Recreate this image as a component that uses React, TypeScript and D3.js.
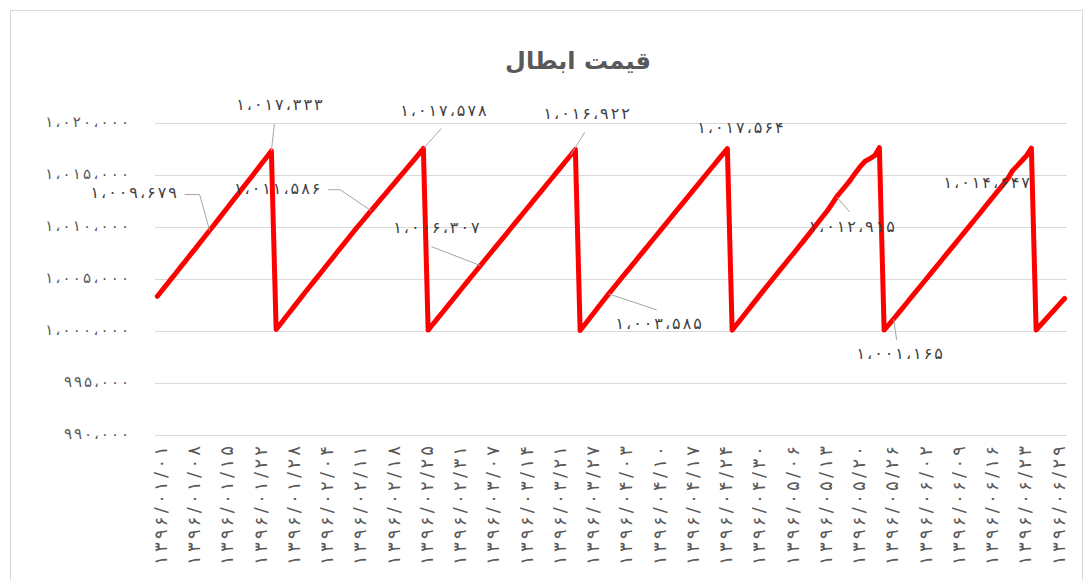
import * as d3 from 'd3';
import { useEffect, useRef } from 'react';

// redemption price, one point per trading row (day 25 of each month appears twice: before/after payout)
const prices: number[] = [
  1003350, 1003930, 1004490, 1005080, 1005640, 1006230, 1006790, 1007380, 1007940, 1008530,
  1009100, 1009679, 1010260, 1010850, 1011440, 1012020, 1012610, 1013200, 1013790, 1014370,
  1014960, 1015560, 1016150, 1016740, 1017333,
  1000150, 1000740, 1001330, 1001910, 1002500, 1003080, 1003660, 1004240, 1004810, 1005380,
  1005960, 1006530, 1007100, 1007680, 1008250, 1008820, 1009390, 1009960, 1010500, 1011040,
  1011586, 1012130, 1012670, 1013210, 1013760, 1014300, 1014840, 1015380, 1015920, 1016460,
  1017010, 1017578,
  1000100, 1000660, 1001230, 1001790, 1002360, 1002920, 1003490, 1004050, 1004620, 1005180,
  1005740, 1006307, 1006870, 1007420, 1007980, 1008540, 1009100, 1009660, 1010220, 1010780,
  1011340, 1011900, 1012460, 1013010, 1013570, 1014130, 1014690, 1015250, 1015810, 1016370,
  1016922, 1017480,
  1000050, 1000640, 1001230, 1001820, 1002410, 1003000, 1003585, 1004140, 1004700, 1005260,
  1005820, 1006380, 1006940, 1007500, 1008060, 1008620, 1009180, 1009740, 1010300, 1010860,
  1011420, 1011980, 1012540, 1013100, 1013660, 1014220, 1014780, 1015340, 1015890, 1016450,
  1017010, 1017564,
  1000080, 1000660, 1001240, 1001820, 1002400, 1002980, 1003560, 1004130, 1004700, 1005270,
  1005840, 1006400, 1006960, 1007520, 1008090, 1008660, 1009240, 1009820, 1010400, 1010980,
  1011560, 1012220, 1012915, 1013480, 1014020, 1014600, 1015250, 1015850, 1016350, 1016600,
  1016880, 1017650,
  1000100, 1000630, 1001165, 1001730, 1002290, 1002850, 1003410, 1003970, 1004530, 1005090,
  1005650, 1006210, 1006770, 1007330, 1007890, 1008450, 1009010, 1009570, 1010130, 1010690,
  1011250, 1011820, 1012390, 1012960, 1013520, 1014080, 1014647, 1015420, 1015900, 1016400,
  1016900, 1017620,
  1000100, 1000610, 1001120, 1001630, 1002130, 1002640, 1003140,
];

// dates shown under every 7th row
const tickLabels: string[] = [
  '۱۳۹۶/۰۱/۰۱', '۱۳۹۶/۰۱/۰۸', '۱۳۹۶/۰۱/۱۵', '۱۳۹۶/۰۱/۲۲', '۱۳۹۶/۰۱/۲۸', '۱۳۹۶/۰۲/۰۴', '۱۳۹۶/۰۲/۱۱',
  '۱۳۹۶/۰۲/۱۸', '۱۳۹۶/۰۲/۲۵', '۱۳۹۶/۰۲/۳۱', '۱۳۹۶/۰۳/۰۷', '۱۳۹۶/۰۳/۱۴', '۱۳۹۶/۰۳/۲۱', '۱۳۹۶/۰۳/۲۷',
  '۱۳۹۶/۰۴/۰۳', '۱۳۹۶/۰۴/۱۰', '۱۳۹۶/۰۴/۱۷', '۱۳۹۶/۰۴/۲۴', '۱۳۹۶/۰۴/۳۰', '۱۳۹۶/۰۵/۰۶', '۱۳۹۶/۰۵/۱۳',
  '۱۳۹۶/۰۵/۲۰', '۱۳۹۶/۰۵/۲۶', '۱۳۹۶/۰۶/۰۲', '۱۳۹۶/۰۶/۰۹', '۱۳۹۶/۰۶/۱۶', '۱۳۹۶/۰۶/۲۳', '۱۳۹۶/۰۶/۲۹',
];

const yTicks: number[] = [990000, 995000, 1000000, 1005000, 1010000, 1015000, 1020000];

// rows that carry a data label
const labelRows: number[] = [11, 24, 45, 56, 68, 87, 95, 120, 143, 155, 179];

// label placement relative to its point: text centre, and leader line vertices
const labelLayout: { dx: number; dy: number; leader: [number, number][] }[] = [
  { dx: -76, dy: -38, leader: [[-25, -36], [-10, -36]] },
  { dx: 8, dy: -47, leader: [[3, -27]] },
  { dx: -94, dy: -22, leader: [[-43, -21], [-31, -21]] },
  { dx: 20, dy: -38, leader: [[18, -20]] },
  { dx: -44, dy: -38, leader: [[-49, -19]] },
  { dx: 16, dy: -42, leader: [[14, -23]] },
  { dx: 50, dy: 30, leader: [[48, 16]] },
  { dx: 13, dy: -21, leader: [] },
  { dx: 15, dy: 30, leader: [[13, 15]] },
  { dx: 6, dy: 35, leader: [[3, 21]] },
  { dx: -21, dy: 4, leader: [] },
];

const W = 1086;
const H = 580;
const TICK_EVERY = 7;
const FONT = '"DejaVu Sans", sans-serif';

const fa = (s: string) =>
  s.replace(/\d/g, (d) => '۰۱۲۳۴۵۶۷۸۹'[+d]).replace(/,/g, '،');
const fmt = (v: number) => fa(d3.format(',')(v));

const App = () => {
  const ref = useRef<SVGSVGElement | null>(null);

  useEffect(() => {
    if (!ref.current) return;
    const svg = d3.select(ref.current);
    svg.selectAll('*').remove();

    const left = 155;
    const right = 1067;
    const top = 123.3;
    const bottom = 435;

    const x = d3
      .scalePoint<number>()
      .domain(d3.range(prices.length))
      .range([left, right])
      .padding(0.5);
    const y = d3.scaleLinear().domain([990000, 1020000]).range([bottom, top]);

    // chart frame
    svg
      .append('rect')
      .attr('x', 10.5)
      .attr('y', 10.5)
      .attr('width', 1072)
      .attr('height', 600)
      .attr('fill', 'white')
      .attr('stroke', '#d9d9d9');

    svg
      .append('text')
      .attr('x', 578)
      .attr('y', 61)
      .attr('text-anchor', 'middle')
      .attr('dominant-baseline', 'central')
      .attr('font-family', FONT)
      .attr('font-weight', 'bold')
      .attr('font-size', 24)
      .attr('fill', '#595959')
      .text('قیمت ابطال');

    // gridlines
    svg
      .append('g')
      .selectAll('line')
      .data(yTicks)
      .enter()
      .append('line')
      .attr('x1', left)
      .attr('x2', right)
      .attr('y1', (d) => Math.round(y(d)) + 0.5)
      .attr('y2', (d) => Math.round(y(d)) + 0.5)
      .attr('stroke', '#d9d9d9')
      .attr('stroke-width', 1.2);

    // letter-spacing is ignored for arabic-script digits, so stretch with textLength
    svg
      .append('g')
      .selectAll('text')
      .data(yTicks)
      .enter()
      .append('text')
      .attr('x', 129)
      .attr('y', (d) => y(d) - 1)
      .attr('text-anchor', 'end')
      .attr('dominant-baseline', 'central')
      .attr('font-family', FONT)
      .attr('font-size', 15)
      .attr('fill', '#595959')
      .attr('textLength', (d) => fmt(d).length * 9.3)
      .attr('lengthAdjust', 'spacing')
      .text((d) => fmt(d));

    // x tick labels, rotated
    svg
      .append('g')
      .selectAll('text')
      .data(tickLabels)
      .enter()
      .append('text')
      .attr('transform', (_d, i) => `translate(${(x(i * TICK_EVERY) as number) + 3},446) rotate(-90)`)
      .attr('text-anchor', 'end')
      .attr('dominant-baseline', 'central')
      .attr('font-family', FONT)
      .attr('font-size', 18)
      .attr('fill', '#595959')
      .attr('textLength', 119)
      .attr('lengthAdjust', 'spacing')
      .text((d) => d);

    const line = d3
      .line<number>()
      .x((_d, i) => x(i) as number)
      .y((d) => y(d));

    svg
      .append('path')
      .datum(prices)
      .attr('d', line)
      .attr('fill', 'none')
      .attr('stroke', '#ff0000')
      .attr('stroke-width', 5)
      .attr('stroke-linejoin', 'round')
      .attr('stroke-linecap', 'round');

    // data labels with leader lines
    const labels = svg.append('g');
    labelRows.forEach((row, k) => {
      const px = x(row) as number;
      const py = y(prices[row]);
      const lay = labelLayout[k];
      if (lay.leader.length) {
        const pts: [number, number][] = lay.leader.map(([a, b]) => [px + a, py + b]);
        pts.push([px, py]);
        labels
          .append('path')
          .attr('d', d3.line()(pts))
          .attr('fill', 'none')
          .attr('stroke', '#a6a6a6')
          .attr('stroke-width', 1);
      }
      const txt = fmt(prices[row]);
      labels
        .append('text')
        .attr('x', px + lay.dx)
        .attr('y', py + lay.dy)
        .attr('text-anchor', 'middle')
        .attr('dominant-baseline', 'central')
        .attr('font-family', FONT)
        .attr('font-size', 16)
        .attr('fill', '#404040')
        .attr('textLength', txt.length * 9.6)
        .attr('lengthAdjust', 'spacing')
        .text(txt);
    });
  }, []);

  return (
    <svg
      ref={ref}
      width={W}
      height={H}
      style={{ position: 'absolute', left: 0, top: 0, background: 'white' }}
    />
  );
};

export default App;
